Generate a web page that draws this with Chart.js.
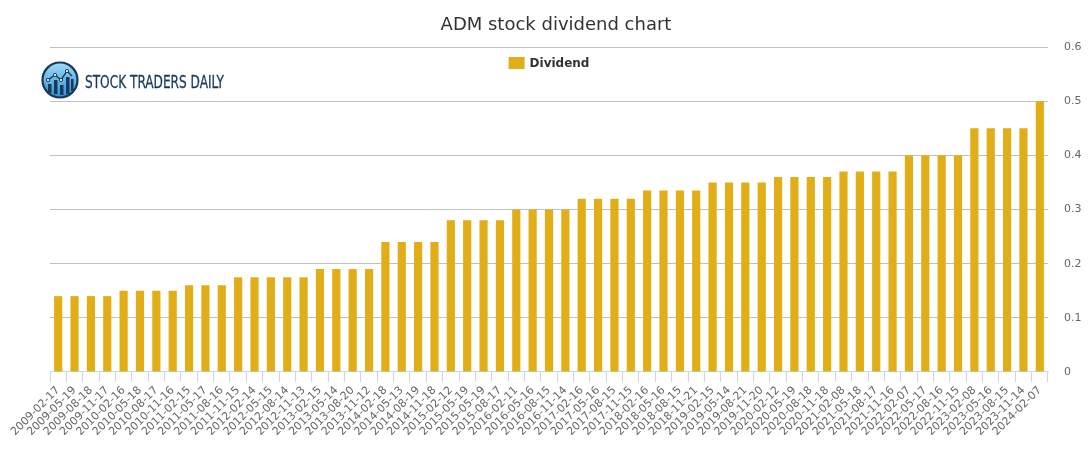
<!DOCTYPE html>
<html>
<head>
<meta charset="utf-8">
<title>ADM stock dividend chart</title>
<script src="https://cdn.jsdelivr.net/npm/chart.js@4.4.1/dist/chart.umd.min.js"></script>
<style>
    html, body { margin: 0; padding: 0; background: #fff; }
    #wrap { position: relative; width: 1091px; height: 450px; }
    #logo { position: absolute; left: 38px; top: 58px; }
    #chartTitle {
        position: absolute; left: 0; top: 13px; width: 1112px;
        text-align: center; line-height: 22px;
        font: 18px "DejaVu Sans", sans-serif; color: #333333;
    }
</style>
</head>
<body>
<div id="wrap">
    <canvas id="myChart" width="1091" height="450"></canvas>
    <div id="chartTitle">ADM stock dividend chart</div>
    <svg id="logo" width="200" height="44" viewBox="0 0 200 44">
        <defs>
            <linearGradient id="g" x1="0" y1="0" x2="0" y2="1">
                <stop offset="0" stop-color="#9fdcf7"/>
                <stop offset="1" stop-color="#2f8fd6"/>
            </linearGradient>
        </defs>
        <circle cx="22" cy="22" r="17.5" fill="url(#g)" stroke="#173a5a" stroke-width="2.2"/>
        <rect x="10" y="26" width="3.5" height="9" fill="#173a5a"/>
        <rect x="16" y="22" width="3.5" height="14" fill="#173a5a"/>
        <rect x="22" y="27" width="3.5" height="10" fill="#173a5a"/>
        <rect x="28" y="19" width="3.5" height="17" fill="#173a5a"/>
        <rect x="33" y="21" width="2.5" height="12" fill="#173a5a"/>
        <polyline points="10,22 17,17 23,22 29,13 34,18" fill="none" stroke="#173a5a" stroke-width="1.4"/>
        <circle cx="10" cy="22" r="1.6" fill="#fff" stroke="#173a5a"/>
        <circle cx="17" cy="17" r="1.6" fill="#fff" stroke="#173a5a"/>
        <circle cx="23" cy="22" r="1.6" fill="#fff" stroke="#173a5a"/>
        <circle cx="29" cy="13" r="1.6" fill="#fff" stroke="#173a5a"/>
        <text x="47" y="30" font-family="Liberation Sans Narrow, DejaVu Sans Condensed, sans-serif" font-size="18" fill="#173a5a" stroke="#173a5a" stroke-width="0.3" textLength="139" lengthAdjust="spacingAndGlyphs">STOCK TRADERS DAILY</text>
    </svg>
</div>
<script>
const payDates = [
    '2009-02-17', '2009-05-19', '2009-08-18', '2009-11-17',
    '2010-02-16', '2010-05-18', '2010-08-17', '2010-11-16',
    '2011-02-15', '2011-05-17', '2011-08-16', '2011-11-15',
    '2012-02-14', '2012-05-15', '2012-08-14', '2012-11-13',
    '2013-02-15', '2013-05-14', '2013-08-20', '2013-11-12',
    '2014-02-18', '2014-05-13', '2014-08-19', '2014-11-18',
    '2015-02-12', '2015-05-19', '2015-05-19', '2015-08-17',
    '2016-02-11', '2016-05-16', '2016-08-15', '2016-11-14',
    '2017-02-16', '2017-05-16', '2017-08-15', '2017-11-15',
    '2018-02-16', '2018-05-16', '2018-08-15', '2018-11-21',
    '2019-02-15', '2019-05-14', '2019-08-21', '2019-11-20',
    '2020-02-12', '2020-05-19', '2020-08-18', '2020-11-18',
    '2021-02-08', '2021-05-18', '2021-08-17', '2021-11-16',
    '2022-02-07', '2022-05-17', '2022-08-16', '2022-11-15',
    '2023-02-08', '2023-05-16', '2023-08-15', '2023-11-14',
    '2024-02-07'
];

const dividends = [
    0.14, 0.14, 0.14, 0.14,
    0.15, 0.15, 0.15, 0.15,
    0.16, 0.16, 0.16, 0.175,
    0.175, 0.175, 0.175, 0.175,
    0.19, 0.19, 0.19, 0.19,
    0.24, 0.24, 0.24, 0.24,
    0.28, 0.28, 0.28, 0.28,
    0.30, 0.30, 0.30, 0.30,
    0.32, 0.32, 0.32, 0.32,
    0.335, 0.335, 0.335, 0.335,
    0.35, 0.35, 0.35, 0.35,
    0.36, 0.36, 0.36, 0.36,
    0.37, 0.37, 0.37, 0.37,
    0.40, 0.40, 0.40, 0.40,
    0.45, 0.45, 0.45, 0.45,
    0.50
];

const yTicks = [0, 0.1, 0.2, 0.3, 0.4, 0.5, 0.6];

Chart.defaults.font.family = '"DejaVu Sans", sans-serif';

// legend sits inside the plot, just under the top grid line
const plotLegend = {
    id: 'plotLegend',
    afterDatasetsDraw(chart) {
        const { ctx, chartArea } = chart;
        const ds = chart.data.datasets[0];
        ctx.save();
        ctx.font = 'bold 12px "DejaVu Sans", sans-serif';
        const tw = ctx.measureText(ds.label).width;
        const x0 = (chartArea.left + chartArea.right) / 2 - (16 + 5 + tw) / 2;
        const y0 = chartArea.top + 10;
        ctx.fillStyle = ds.backgroundColor;
        ctx.fillRect(x0, y0, 16, 12);
        ctx.fillStyle = '#333333';
        ctx.textBaseline = 'middle';
        ctx.fillText(ds.label, x0 + 21, y0 + 6.5);
        ctx.restore();
    }
};

new Chart(document.getElementById('myChart'), {
    type: 'bar',
    data: {
        labels: payDates,
        datasets: [{
            label: 'Dividend',
            data: dividends,
            backgroundColor: '#e1ae17',
            borderWidth: 0,
            barPercentage: 0.5,
            categoryPercentage: 1.0
        }]
    },
    plugins: [plotLegend],
    options: {
        responsive: false,
        animation: false,
        layout: {
            padding: { left: 50, right: 0, bottom: 9.5, top: 47 }
        },
        plugins: {
            title: { display: false },
            legend: { display: false },
            tooltip: { enabled: false }
        },
        scales: {
            x: {
                grid: {
                    display: true,
                    drawOnChartArea: false,
                    drawTicks: true,
                    tickLength: 10,
                    color: '#ccd6eb'
                },
                border: { display: true, color: '#ccd6eb' },
                ticks: {
                    autoSkip: false,
                    maxRotation: 45,
                    minRotation: 45,
                    color: '#666666',
                    font: { size: 11 },
                    padding: 2
                }
            },
            y: {
                position: 'right',
                min: 0,
                max: 0.6,
                afterBuildTicks: axis => {
                    axis.ticks = yTicks.map(v => ({ value: v }));
                },
                afterFit: axis => {
                    axis.width = 43;
                },
                grid: {
                    drawTicks: false,
                    color: ctx => ctx.tick && ctx.tick.value === 0 ? 'rgba(0,0,0,0)' : '#c0c0c0'
                },
                border: { display: false },
                ticks: {
                    crossAlign: 'near',
                    color: '#666666',
                    font: { size: 11 },
                    padding: 16
                }
            }
        }
    }
});
</script>
</body>
</html>
